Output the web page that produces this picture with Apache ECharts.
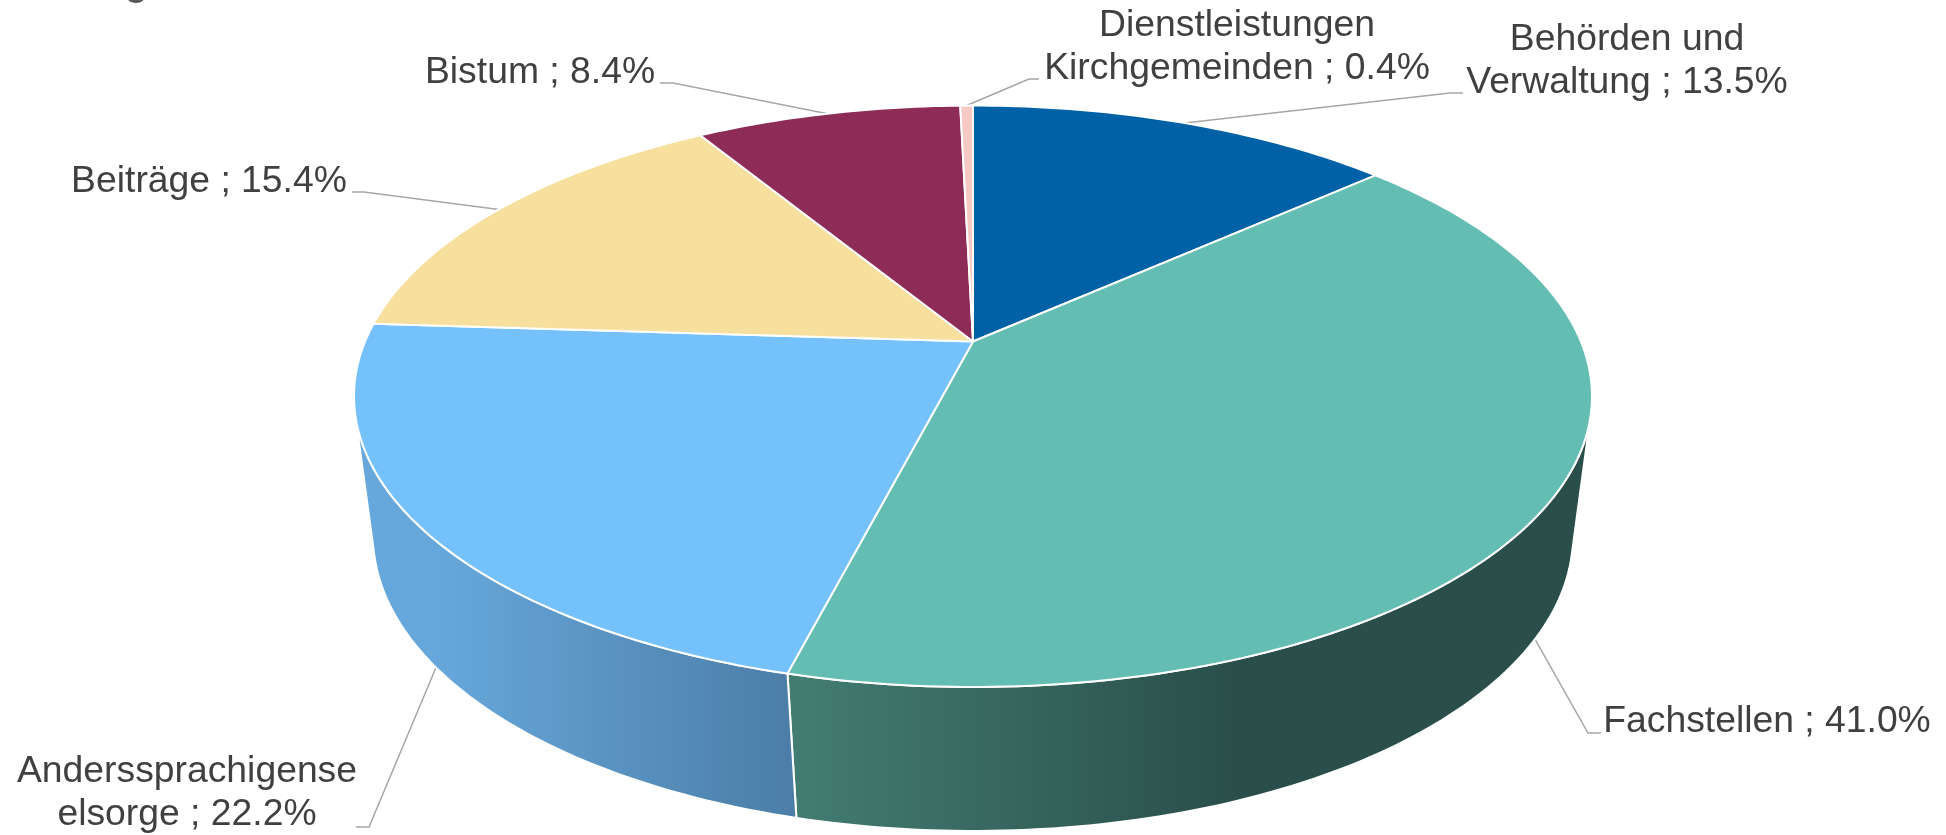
<!DOCTYPE html>
<html>
<head>
<meta charset="utf-8">
<style>
  html, body { margin: 0; height: 100%; background: #fff; }
  #chart { width: 1946px; height: 835px; }
</style>
<script src="https://cdn.jsdelivr.net/npm/echarts@6/dist/echarts.min.js"></script>
</head>
<body>
<div id="chart"></div>
<script>
// values as printed on the labels, they add up to 100.9 and get normalised for the angles
const categories = ['Behörden und Verwaltung', 'Fachstellen', 'Anderssprachigenseelsorge', 'Beiträge', 'Bistum', 'Dienstleistungen Kirchgemeinden']
const values = [13.5, 41.0, 22.2, 15.4, 8.4, 0.4]
const labelLines = [
  ['Behörden und', 'Verwaltung ; 13.5%'],
  ['Fachstellen ; 41.0%'],
  ['Anderssprachigense', 'elsorge ; 22.2%'],
  ['Beiträge ; 15.4%'],
  ['Bistum ; 8.4%'],
  ['Dienstleistungen', 'Kirchgemeinden ; 0.4%']
]
const topColors = ['#0061a7', '#64bdb3', '#74c1fb', '#f7df9e', '#8e2c58', '#f6c9c5']

// label centre x and baseline of the first line
const labelX = [1627, 1767, 187, 209, 540, 1237]
const labelY = [50, 732, 782, 192, 83, 36]
const lineGap = 43
// leader: elbow point and end of the short horizontal piece
const elbows = [[1450, 93], [1588, 733], [369, 827], [364, 192], [673, 83], [1029, 79]]
const tails = [1463, 1601, 356, 352, 660, 1039]
// slices on the front start their leader on the wall, not on the top face
const leaderDepth = [0, 0.87, 0.91, 0, 0, 0]

// top and bottom rim of the cake, perspective projection of a unit circle
const topPlane = { cx: 973, cy: 341.5, a: 607.9, b: 280.4, k: 0.1883 }
const bottomPlane = { cx: 973, cy: 485.8, a: 591.2, b: 286.5, k: 0.17 }
// angles where the wall meets the outline of the cake, behind them it is hidden
const wallRange = [104, 256]

const total = values.reduce((s, v) => s + v, 0)
const bounds = [0]
values.forEach((v, i) => bounds.push(bounds[i] + v / total * 360))

function project(plane, deg) {
  const t = deg * Math.PI / 180
  const u = Math.sin(t)
  const v = -Math.cos(t)
  const d = 1 - plane.k * v
  return [plane.cx + plane.a * u / d, plane.cy + plane.b * v / d]
}

function arc(plane, from, to) {
  const pts = []
  const n = Math.max(2, Math.ceil(to - from))
  for (let i = 0; i <= n; i++) {
    pts.push(project(plane, from + (to - from) * i / n))
  }
  return pts
}

function wallFill(i) {
  if (i === 1) {
    return new echarts.graphic.LinearGradient(790, 0, 1230, 0, [
      { offset: 0, color: '#437d72' },
      { offset: 1, color: '#2a4f4b' }
    ], true)
  }
  return new echarts.graphic.LinearGradient(430, 0, 800, 0, [
    { offset: 0, color: '#67a8dc' },
    { offset: 1, color: '#4b7da6' }
  ], true)
}

function renderLeader(params) {
  const i = params.dataIndex
  const mid = (bounds[i] + bounds[i + 1]) / 2
  const a = project(topPlane, mid)
  const b = project(bottomPlane, mid)
  const t = leaderDepth[i]
  return {
    type: 'polyline',
    shape: {
      points: [
        [a[0] + (b[0] - a[0]) * t, a[1] + (b[1] - a[1]) * t],
        elbows[i],
        [tails[i], elbows[i][1]]
      ]
    },
    style: { fill: null, stroke: '#a6a6a6', lineWidth: 1.5 }
  }
}

function renderWall(params) {
  const i = params.dataIndex
  const from = Math.max(bounds[i], wallRange[0])
  const to = Math.min(bounds[i + 1], wallRange[1])
  if (to <= from) return null
  const pts = arc(topPlane, from, to).concat(arc(bottomPlane, from, to).reverse())
  return {
    type: 'polygon',
    shape: { points: pts },
    style: { fill: wallFill(i), stroke: '#fff', lineWidth: 2, lineJoin: 'round' }
  }
}

function renderTop(params) {
  const i = params.dataIndex
  const pts = [[topPlane.cx, topPlane.cy]].concat(arc(topPlane, bounds[i], bounds[i + 1]))
  return {
    type: 'polygon',
    shape: { points: pts },
    style: { fill: topColors[i], stroke: '#fff', lineWidth: 2, lineJoin: 'round' }
  }
}

function renderLabel(params) {
  const i = params.dataIndex
  return {
    type: 'group',
    children: labelLines[i].map((line, n) => ({
      type: 'text',
      style: {
        text: line,
        x: labelX[i],
        y: labelY[i] + n * lineGap,
        textAlign: 'center',
        textVerticalAlign: 'bottom',
        fill: '#404040',
        font: '37.3px "Liberation Sans", Arial, sans-serif'
      },
      // glyph bottom box sits below the baseline
      y: 8
    }))
  }
}

const chart = echarts.init(document.getElementById('chart'))
const sliceData = categories.map((name, i) => ({ name, value: values[i] }))

function layer(renderItem, z) {
  return { type: 'custom', coordinateSystem: 'none', silent: true, z, data: sliceData, renderItem }
}

chart.setOption({
  animation: false,
  backgroundColor: '#fff',
  // the title is cut off by the top of the picture, only its lowest pixels show
  title: {
    text: 'Aufteilung Nettoaufwand nach Bereichen',
    left: -45,
    top: -39,
    textStyle: { color: '#595959', fontSize: 38, fontWeight: 'bold', fontFamily: '"Liberation Sans", Arial, sans-serif' }
  },
  series: [
    layer(renderLeader, 1),
    layer(renderWall, 2),
    layer(renderTop, 3),
    layer(renderLabel, 4)
  ]
})
</script>
</body>
</html>
